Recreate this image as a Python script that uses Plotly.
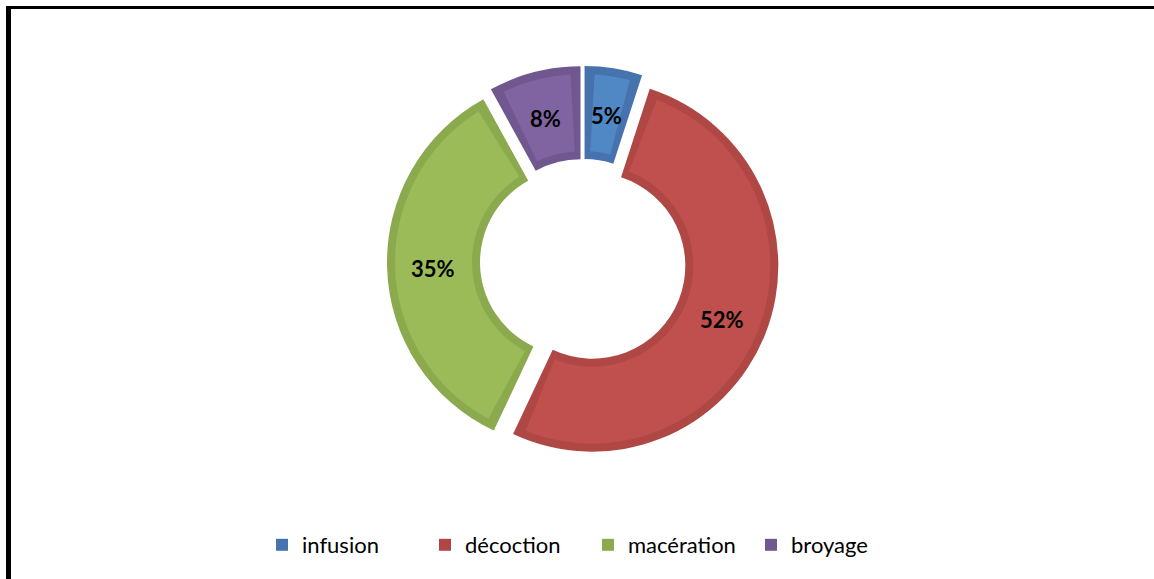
import math
import plotly.graph_objects as go

# Data: share of each preparation method (%)
methods = ["infusion", "décoction", "macération", "broyage"]
shares = [5, 52, 35, 8]

# Office-style palette: ring edge tone and inner panel tone per slice
edge_colors = ["#4672AE", "#AF4744", "#8BAA4E", "#71578F"]
panel_colors = ["#5088C6", "#C0504D", "#9BBB59", "#8064A2"]

W, H = 1154, 579
CX, CY = 583, 262          # donut centre (px)
R_OUT = 186                # outer radius (px)
HOLE = 0.5                 # hole size as fraction of the outer radius
PULL_PX = 10               # slice explosion distance (px)
EDGE_PX = 8                # width of the darker rim (px)
GAP_VALUE = 0.9            # angular rim width, in value units
LABEL_R = 140              # distance of the percentage labels from each slice's centre (px)
FONT = "Lato"


def domain_for(radius):
    half = radius + PULL_PX
    return dict(
        x=[(CX - half) / W, (CX + half) / W],
        y=[((H - CY) - half) / H, ((H - CY) + half) / H],
    )


common = dict(sort=False, direction="clockwise", rotation=0,
              hoverinfo="skip", textinfo="none")

# Base ring: darker rim colour, full size
base = go.Pie(
    labels=methods, values=shares, hole=HOLE,
    pull=[PULL_PX / R_OUT] * len(shares),
    marker=dict(colors=edge_colors, line=dict(width=0)),
    domain=domain_for(R_OUT), showlegend=True,
    **common,
)

# Inner panels: lighter colour, inset from the rim on every side
r_in = R_OUT - EDGE_PX
hole_in = (R_OUT * HOLE + EDGE_PX) / r_in
panel_labels, panel_values, panel_fill = [], [], []
for name, v, c in zip(methods, shares, panel_colors):
    panel_labels += [name + " (a)", name, name + " (b)"]
    panel_values += [GAP_VALUE, v - 2 * GAP_VALUE, GAP_VALUE]
    panel_fill += ["rgba(0,0,0,0)", c, "rgba(0,0,0,0)"]

panels = go.Pie(
    labels=panel_labels, values=panel_values, hole=hole_in,
    pull=[PULL_PX / r_in] * len(panel_values),
    marker=dict(colors=panel_fill, line=dict(width=0)),
    domain=domain_for(r_in), showlegend=False,
    **common,
)

fig = go.Figure([base, panels])

# Percentage labels, centred in each (exploded) slice
total = sum(shares)
annotations = []
cum = 0
for v in shares:
    mid = 2 * math.pi * (cum + v / 2) / total
    cum += v
    dist = PULL_PX + LABEL_R
    lx = CX + dist * math.sin(mid)
    ly = CY - dist * math.cos(mid)
    annotations.append(dict(
        x=lx / W, y=1 - ly / H, xref="paper", yref="paper",
        text=f"{round(100 * v / total)}%", showarrow=False,
        xanchor="center", yanchor="middle", yshift=-2,
        font=dict(family=FONT, size=22, color="black", weight="bold"),
    ))

fig.update_layout(
    width=W, height=H, autosize=False,
    margin=dict(l=0, r=0, t=0, b=0),
    paper_bgcolor="white", plot_bgcolor="white",
    annotations=annotations,
    legend=dict(
        orientation="h", x=262 / W, xanchor="left",
        y=1 - 545 / H, yanchor="middle",
        entrywidth=118, entrywidthmode="pixels",
        font=dict(family=FONT, size=22, color="black"),
        bgcolor="rgba(0,0,0,0)",
    ),
    shapes=[
        # frame: left and top rules
        dict(type="rect", xref="paper", yref="paper",
             x0=6 / W, x1=11 / W, y0=0, y1=1 - 6 / H,
             fillcolor="black", line=dict(width=0)),
        dict(type="rect", xref="paper", yref="paper",
             x0=6 / W, x1=1, y0=1 - 9 / H, y1=1 - 6 / H,
             fillcolor="black", line=dict(width=0)),
    ],
)

fig.write_html("out.html")
